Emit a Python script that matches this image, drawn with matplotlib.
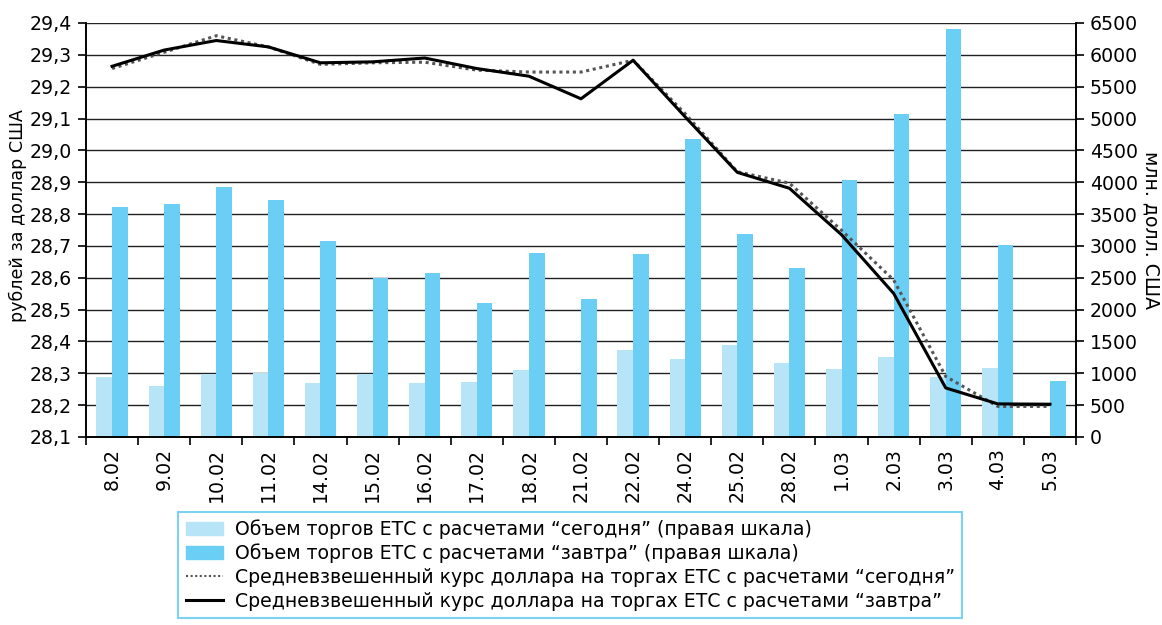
import matplotlib
matplotlib.use("Agg")
import matplotlib.pyplot as plt
import numpy as np
from matplotlib.patches import Patch
from matplotlib.lines import Line2D

# данные
dates = ['8.02', '9.02', '10.02', '11.02', '14.02', '15.02', '16.02', '17.02', '18.02',
         '21.02', '22.02', '24.02', '25.02', '28.02', '1.03', '2.03', '3.03', '4.03', '5.03']
vol_today = [940, 800, 990, 1010, 845, 990, 845, 860, 1050,
             0, 1360, 1220, 1440, 1160, 1060, 1250, 940, 1080, 0]
vol_tomorrow = [3610, 3660, 3920, 3720, 3080, 2490, 2570, 2110, 2890,
                2160, 2880, 4680, 3180, 2660, 4040, 5070, 6410, 3020, 880]
rate_today = [29.257, 29.308, 29.36, 29.325, 29.27, 29.275, 29.277, 29.252, 29.246,
              29.246, 29.283, 29.115, 28.933, 28.897, 28.749, 28.593, 28.29, 28.196, 28.196]
rate_tomorrow = [29.264, 29.315, 29.345, 29.325, 29.275, 29.278, 29.29, 29.257, 29.233,
                 29.162, 29.283, 29.105, 28.931, 28.881, 28.735, 28.551, 28.254, 28.204, 28.203]

left_ticks = [28.1, 28.2, 28.3, 28.4, 28.5, 28.6, 28.7, 28.8, 28.9, 29.0, 29.1, 29.2, 29.3, 29.4]
right_ticks = list(range(0, 6501, 500))

c_light = '#b8e4f8'
c_dark = '#6acef5'
fs = 13.6

plt.rcParams['font.family'] = ['DejaVu Sans']

fig = plt.figure(figsize=(11.62, 6.25), dpi=100)
ax = fig.add_axes([86 / 1162, 1 - 437 / 625, (1076 - 86) / 1162, (437 - 23) / 625])
axl = ax.twinx()

# столбцы - объемы (правая шкала)
x = np.arange(len(dates))
w = 0.3
ax.bar(x - w / 2, vol_today, w, color=c_light, zorder=2)
ax.bar(x + w / 2, vol_tomorrow, w, color=c_dark, zorder=2)
ax.set_ylim(0, 6500)
ax.set_yticks(right_ticks)
ax.set_yticklabels([str(v) for v in right_ticks], fontsize=fs)
ax.yaxis.tick_right()
ax.yaxis.set_label_position('right')
ax.set_ylabel('млн. долл. США', fontsize=fs, rotation=270, labelpad=16)
ax.grid(axis='y', color='#222222', lw=1.0, zorder=0)
ax.set_axisbelow(True)

ax.set_xlim(-0.5, len(dates) - 0.5)
ax.set_xticks(x)
ax.set_xticklabels(dates, rotation=90, fontsize=fs)
ax.set_xticks(np.arange(len(dates) + 1) - 0.5, minor=True)
ax.tick_params(axis='x', which='major', length=0, pad=8)
ax.tick_params(axis='x', which='minor', length=6, width=1.2, color='black')
ax.tick_params(axis='y', length=6, width=1.2, pad=4)

# линии - курс (левая шкала)
axl.plot(x, rate_today, color='#555555', lw=2.2, ls=(0, (1, 1.2)), zorder=3)
axl.plot(x, rate_tomorrow, color='black', lw=2.2, zorder=4)
axl.set_ylim(28.1, 29.4)
axl.set_yticks(left_ticks)
axl.set_yticklabels([f'{v:.1f}'.replace('.', ',') for v in left_ticks], fontsize=fs)
axl.yaxis.tick_left()
axl.yaxis.set_label_position('left')
axl.set_ylabel('рублей за доллар США', fontsize=12.6, labelpad=2)
axl.yaxis.label.set_y(0.534)
axl.tick_params(axis='y', length=6, width=1.2, pad=4)

for a in (ax, axl):
    a.spines['top'].set_visible(False)
    for s in ('left', 'right', 'bottom'):
        a.spines[s].set_linewidth(1.2)

handles = [
    Patch(color=c_light),
    Patch(color=c_dark),
    Line2D([], [], color='#555555', lw=1.5, ls=(0, (1, 1.2))),
    Line2D([], [], color='black', lw=2.2),
]
labels = [
    'Объем торгов ЕТС с расчетами “сегодня” (правая шкала)',
    'Объем торгов ЕТС с расчетами “завтра” (правая шкала)',
    'Средневзвешенный курс доллара на торгах ЕТС с расчетами “сегодня”',
    'Средневзвешенный курс доллара на торгах ЕТС с расчетами “завтра”',
]
leg = fig.legend(handles, labels, loc='upper left', bbox_to_anchor=(178 / 1162, 1 - 512 / 625),
                 fontsize=13.6, frameon=True, fancybox=False, handlelength=2.0,
                 handleheight=0.7, handletextpad=0.6, labelspacing=0.24,
                 borderpad=0.4, borderaxespad=0)
leg.get_frame().set_edgecolor('#5cc6ee')
leg.get_frame().set_linewidth(1.5)

fig.savefig('out.png', dpi=100)
